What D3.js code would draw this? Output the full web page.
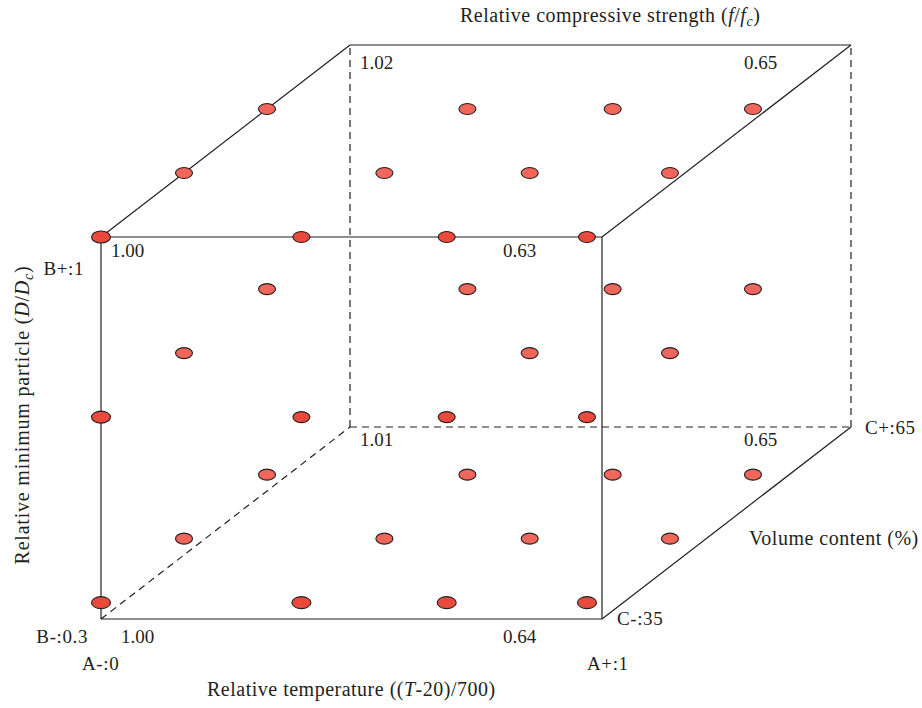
<!DOCTYPE html>
<html>
<head>
<meta charset="utf-8">
<script src="https://cdn.jsdelivr.net/npm/d3@7"></script>
<style>
  html, body { margin: 0; padding: 0; background: #fff; }
  svg text { font-family: "Liberation Serif", "Times New Roman", serif; fill: #231f20; }
</style>
</head>
<body>
<svg id="chart" width="922" height="708"></svg>
<script>
// Factor ranges of the design space
const rangeA = [0, 1];        // relative temperature (T-20)/700
const rangeB = [0.3, 1];      // relative minimum particle D/Dc
const rangeC = [35, 65];      // volume content (%)

// Test points of the design (A, B, C)
const designPoints = [
  // C = 35
  [0, 1, 35], [0.4, 1, 35], [0.69, 1, 35], [0.97, 1, 35],
  [0, 0.67, 35], [0.4, 0.67, 35], [0.69, 0.67, 35], [0.97, 0.67, 35],
  [0, 0.33, 35], [0.4, 0.33, 35], [0.69, 0.33, 35], [0.97, 0.33, 35],
  // C = 45
  [0, 1, 45], [0.4, 1, 45], [0.69, 1, 45], [0.97, 1, 45],
  [0, 0.67, 45], [0.69, 0.67, 45], [0.97, 0.67, 45],
  [0, 0.33, 45], [0.4, 0.33, 45], [0.69, 0.33, 45], [0.97, 0.33, 45],
  // C = 55
  [0, 1, 55], [0.4, 1, 55], [0.69, 1, 55], [0.97, 1, 55],
  [0, 0.67, 55], [0.4, 0.67, 55], [0.69, 0.67, 55], [0.97, 0.67, 55],
  [0, 0.33, 55], [0.4, 0.33, 55], [0.69, 0.33, 55], [0.97, 0.33, 55]
];

// Relative compressive strength at the cube corners (A, B, C, value)
const cornerStrength = [
  [0, 1, 35, "1.00"], [1, 1, 35, "0.63"],
  [0, 0.3, 35, "1.00"], [1, 0.3, 35, "0.64"],
  [0, 1, 65, "1.02"], [1, 1, 65, "0.65"],
  [0, 0.3, 65, "1.01"], [1, 0.3, 65, "0.65"]
];

// Factor level labels
const levelLabelsA = ["A-:0", "A+:1"];
const levelLabelsB = ["B-:0.3", "B+:1"];
const levelLabelsC = ["C-:35", "C+:65"];

const svg = d3.select("#chart");

// Oblique projection: A across, B up, C into the page
const xA = d3.scaleLinear().domain(rangeA).range([101, 602]);
const yB = d3.scaleLinear().domain(rangeB).range([619, 237]);
const depthC = d3.scaleLinear().domain(rangeC).range([0, 1]);
const depthShift = { x: 249, y: -192 };

function project(a, b, c) {
  const t = depthC(c);
  return [xA(a) + depthShift.x * t, yB(b) + depthShift.y * t];
}

// Cube edges
const [a0, a1] = rangeA, [b0, b1] = rangeB, [c0, c1] = rangeC;
const edges = [
  // front face
  [[a0, b1, c0], [a1, b1, c0], false],
  [[a0, b0, c0], [a1, b0, c0], false],
  [[a0, b0, c0], [a0, b1, c0], false],
  [[a1, b0, c0], [a1, b1, c0], false],
  // top and right visible edges
  [[a0, b1, c0], [a0, b1, c1], false],
  [[a1, b1, c0], [a1, b1, c1], false],
  [[a1, b0, c0], [a1, b0, c1], false],
  [[a0, b1, c1], [a1, b1, c1], false],
  // hidden edges
  [[a0, b0, c0], [a0, b0, c1], true],
  [[a0, b0, c1], [a1, b0, c1], true],
  [[a0, b0, c1], [a0, b1, c1], true],
  [[a1, b0, c1], [a1, b1, c1], true]
];

const line = d3.line();
svg.append("g")
  .selectAll("path")
  .data(edges)
  .join("path")
  .attr("d", d => line([project(...d[0]), project(...d[1])]))
  .attr("fill", "none")
  .attr("stroke", "#231f20")
  .attr("stroke-width", 1.2)
  .attr("stroke-dasharray", d => d[2] ? "7,5" : null);

// Design points, back to front
const lowB = d3.min(designPoints, d => d[1]);
const isEmphasised = d => d[2] === c0 && (d[0] === a0 || d[1] === lowB);
svg.append("g")
  .selectAll("ellipse")
  .data(designPoints.slice().sort((p, q) => q[2] - p[2]))
  .join("ellipse")
  .attr("cx", d => project(...d)[0])
  .attr("cy", d => project(...d)[1])
  .attr("rx", d => isEmphasised(d) ? 9.5 : 8.5)
  .attr("ry", d => isEmphasised(d) ? 6 : 5.5)
  .attr("fill", d => d[2] === c0 ? "#ea4a3c" : "#f0665b")
  .attr("stroke", "#231f20")
  .attr("stroke-width", 1.1);

// Corner strength values
const numSize = 19;
const labelSize = 20;
const labelSpacing = 0.5;
svg.append("g")
  .selectAll("text")
  .data(cornerStrength)
  .join("text")
  .attr("x", d => {
    const [px] = project(d[0], d[1], d[2]);
    if (d[0] === a0) return px + (d[1] === b0 && d[2] === c0 ? 20 : 10);
    return px + (d[2] === c0 ? -99 : -107);
  })
  .attr("y", d => {
    const [, py] = project(d[0], d[1], d[2]);
    if (d[1] === b1) return py + (d[2] === c0 ? 20 : 24);
    return py + (d[2] === c0 ? 24 : 19);
  })
  .attr("font-size", numSize)
  .text(d => d[3]);

// Level labels
const frontBL = project(a0, b0, c0), frontTL = project(a0, b1, c0);
const frontBR = project(a1, b0, c0), backBR = project(a1, b0, c1);

function levelLabel(x, y, anchor, text) {
  svg.append("text").attr("x", x).attr("y", y)
    .attr("text-anchor", anchor).attr("font-size", numSize)
    .attr("letter-spacing", 0.6).text(text);
}
levelLabel(frontTL[0] - 17, frontTL[1] + 38, "end", levelLabelsB[1]);
levelLabel(frontBL[0] - 13, frontBL[1] + 24, "end", levelLabelsB[0]);
levelLabel(frontBL[0] - 19, frontBL[1] + 51, "start", levelLabelsA[0]);
levelLabel(frontBR[0] - 15, frontBR[1] + 51, "start", levelLabelsA[1]);
levelLabel(frontBR[0] + 15, frontBR[1] + 6, "start", levelLabelsC[0]);
levelLabel(backBR[0] + 14, backBR[1] + 7, "start", levelLabelsC[1]);

// Axis titles
const titleTop = svg.append("text").attr("x", 460).attr("y", 22)
  .attr("font-size", labelSize).attr("letter-spacing", labelSpacing);
titleTop.append("tspan").text("Relative compressive strength (");
titleTop.append("tspan").attr("font-style", "italic").text("f");
titleTop.append("tspan").text("/");
titleTop.append("tspan").attr("font-style", "italic").text("f");
titleTop.append("tspan").attr("font-style", "italic").attr("font-size", 14).attr("dy", 4).text("c");
titleTop.append("tspan").attr("dy", -4).text(")");

const titleBottom = svg.append("text").attr("x", 207).attr("y", 696)
  .attr("font-size", labelSize).attr("letter-spacing", labelSpacing);
titleBottom.append("tspan").text("Relative temperature ((");
titleBottom.append("tspan").attr("font-style", "italic").text("T");
titleBottom.append("tspan").text("-20)/700)");

svg.append("text").attr("x", 749).attr("y", 545)
  .attr("font-size", labelSize).attr("letter-spacing", labelSpacing)
  .text("Volume content (%)");

const titleSide = svg.append("text")
  .attr("transform", "translate(29,415) rotate(-90)")
  .attr("text-anchor", "middle")
  .attr("font-size", labelSize).attr("letter-spacing", 0.8);
titleSide.append("tspan").text("Relative minimum particle (");
titleSide.append("tspan").attr("font-style", "italic").text("D");
titleSide.append("tspan").text("/");
titleSide.append("tspan").attr("font-style", "italic").text("D");
titleSide.append("tspan").attr("font-style", "italic").attr("font-size", 14).attr("dy", 4).text("c");
titleSide.append("tspan").attr("dy", -4).text(")");
</script>
</body>
</html>
